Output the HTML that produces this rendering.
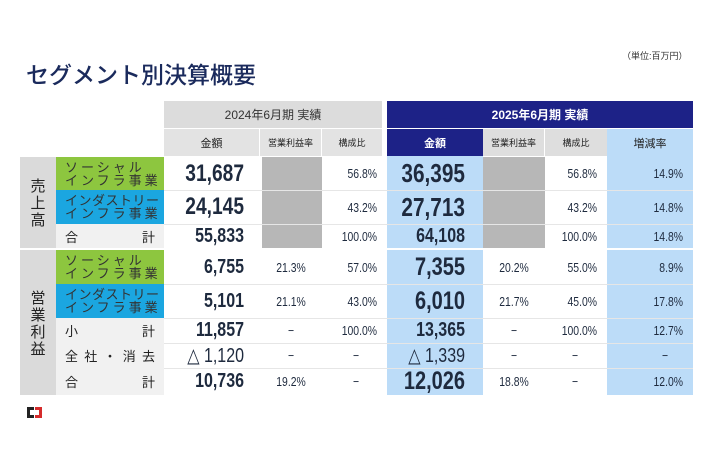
<!DOCTYPE html>
<html><head><meta charset="utf-8"><style>
*{margin:0;padding:0;box-sizing:border-box}
body{width:710px;height:474px;background:#fff;position:relative;overflow:hidden;font-family:"Liberation Sans","Noto Sans CJK JP",sans-serif;color:#222}
.a{position:absolute}
.c{position:absolute;display:flex;align-items:center;justify-content:center}
.r{justify-content:flex-end;transform-origin:right center}
.n{font-family:"Liberation Sans",sans-serif;color:#1e2a3e;transform:scaleX(.8)}
.big{font-size:24px;font-weight:bold}
.mid{font-size:20px;font-weight:bold}
.sm{font-size:13px}
.seg{font-size:13px;line-height:13px;letter-spacing:3px;color:#333;padding-left:9px;display:block;padding-top:4px;white-space:nowrap}
</style></head><body>
<div class="a" style="left:26px;top:56px;font-size:23px;font-weight:500;color:#1a2a5c;font-family:'Noto Sans CJK JP',sans-serif">セグメント別決算概要</div>
<div class="a" style="left:622px;top:49px;font-size:9px;color:#333">（単位:百万円）</div>

<div class="c" style="left:164px;top:101px;width:218px;height:27px;background:#dcdcdc;font-size:12px;color:#333">2024年6月期 実績</div>
<div class="c" style="left:164px;top:129px;width:95px;height:27px;background:#e3e3e3;font-size:11px">金額</div>
<div class="c" style="left:260px;top:129px;width:61px;height:27px;background:#e3e3e3;font-size:9px">営業利益率</div>
<div class="c" style="left:322px;top:129px;width:60px;height:27px;background:#e3e3e3;font-size:9px">構成比</div>
<div class="c" style="left:387px;top:101px;width:306px;height:27px;background:#1d2287;color:#fff;font-size:12px;font-weight:bold">2025年6月期 実績</div>
<div class="c" style="left:387px;top:129px;width:96px;height:27px;background:#1d2287;color:#fff;font-size:11px;font-weight:bold">金額</div>
<div class="c" style="left:483px;top:129px;width:61px;height:27px;background:#dedede;font-size:9px">営業利益率</div>
<div class="c" style="left:545px;top:129px;width:62px;height:27px;background:#dedede;font-size:9px">構成比</div>
<div class="c" style="left:607px;top:129px;width:86px;height:27px;background:#bcdcf8;font-size:11px">増減率</div>

<div class="a" style="left:387px;top:156px;width:96px;height:239px;background:#bcdcf8"></div>
<div class="a" style="left:607px;top:156px;width:86px;height:239px;background:#bcdcf8"></div>
<div class="a" style="left:387px;top:248px;width:96px;height:2px;background:#fff"></div>
<div class="a" style="left:607px;top:248px;width:86px;height:2px;background:#fff"></div>
<div class="a" style="left:262px;top:157px;width:60px;height:91px;background:#b7b7b7"></div>
<div class="a" style="left:483px;top:157px;width:62px;height:91px;background:#b7b7b7"></div>

<div class="a" style="left:20px;top:157px;width:36px;height:91px;background:#dadada"></div>
<div class="a" style="left:20px;top:250px;width:36px;height:145px;background:#dadada"></div>
<div class="a" style="left:28px;top:178px;font-size:15px;line-height:17px;width:20px;text-align:center">売<br>上<br>高</div>
<div class="a" style="left:28px;top:290px;font-size:15px;line-height:17px;width:20px;text-align:center">営<br>業<br>利<br>益</div>

<div class="a" style="left:56px;top:157px;width:108px;height:33px;background:#8dc63f"><span class="seg">ソーシャル<br>インフラ事業</span></div>
<div class="a" style="left:56px;top:190px;width:108px;height:34px;background:#1ba6e0"><span class="seg" style="letter-spacing:0.5px">インダストリー<br><span style="letter-spacing:3px">インフラ事業</span></span></div>
<div class="c" style="left:56px;top:224px;width:108px;height:24px;background:#f1f1f1;justify-content:space-between;padding:0 9px;font-size:13px"><span>合</span><span>計</span></div>
<div class="a" style="left:56px;top:250px;width:108px;height:34px;background:#8dc63f"><span class="seg">ソーシャル<br>インフラ事業</span></div>
<div class="a" style="left:56px;top:284px;width:108px;height:34px;background:#1ba6e0"><span class="seg" style="letter-spacing:0.5px">インダストリー<br><span style="letter-spacing:3px">インフラ事業</span></span></div>
<div class="c" style="left:56px;top:318px;width:108px;height:25px;background:#f1f1f1;justify-content:space-between;padding:0 9px;font-size:13px"><span>小</span><span>計</span></div>
<div class="c" style="left:56px;top:343px;width:108px;height:25px;background:#f1f1f1;justify-content:space-between;padding:0 9px;font-size:13px"><span>全</span><span>社</span><span>・</span><span>消</span><span>去</span></div>
<div class="c" style="left:56px;top:368px;width:108px;height:27px;background:#f1f1f1;justify-content:space-between;padding:0 9px;font-size:13px"><span>合</span><span>計</span></div>

<div class="a" style="left:164px;top:190px;width:529px;height:1px;background:#e6e6e6"></div>
<div class="a" style="left:164px;top:224px;width:529px;height:1px;background:#e6e6e6"></div>
<div class="a" style="left:164px;top:284px;width:529px;height:1px;background:#e6e6e6"></div>
<div class="a" style="left:164px;top:318px;width:529px;height:1px;background:#e6e6e6"></div>
<div class="a" style="left:164px;top:343px;width:529px;height:1px;background:#e6e6e6"></div>
<div class="a" style="left:164px;top:368px;width:529px;height:1px;background:#e6e6e6"></div>

<div class="c r n big" style="left:164px;top:157px;width:80px;height:33px">31,687</div>
<div class="c r n big" style="left:164px;top:190px;width:80px;height:34px">24,145</div>
<div class="c r n mid" style="left:164px;top:224px;width:80px;height:24px">55,833</div>
<div class="c r n mid" style="left:164px;top:250px;width:80px;height:34px">6,755</div>
<div class="c r n mid" style="left:164px;top:284px;width:80px;height:34px">5,101</div>
<div class="c r n mid" style="left:164px;top:318px;width:80px;height:25px">11,857</div>
<div class="c r n mid" style="left:164px;top:343px;width:80px;height:25px;font-weight:normal">△ 1,120</div>
<div class="c r n mid" style="left:164px;top:368px;width:80px;height:27px">10,736</div>
<div class="c n sm" style="left:260px;top:250px;width:62px;height:34px">21.3%</div>
<div class="c n sm" style="left:260px;top:284px;width:62px;height:34px">21.1%</div>
<div class="c n sm" style="left:260px;top:318px;width:62px;height:25px">−</div>
<div class="c n sm" style="left:260px;top:343px;width:62px;height:25px">−</div>
<div class="c n sm" style="left:260px;top:368px;width:62px;height:27px">19.2%</div>
<div class="c r n sm" style="left:322px;top:157px;width:55px;height:33px">56.8%</div>
<div class="c r n sm" style="left:322px;top:190px;width:55px;height:34px">43.2%</div>
<div class="c r n sm" style="left:322px;top:224px;width:55px;height:24px">100.0%</div>
<div class="c r n sm" style="left:322px;top:250px;width:55px;height:34px">57.0%</div>
<div class="c r n sm" style="left:322px;top:284px;width:55px;height:34px">43.0%</div>
<div class="c r n sm" style="left:322px;top:318px;width:55px;height:25px">100.0%</div>
<div class="c n sm" style="left:330px;top:343px;width:52px;height:25px">−</div>
<div class="c n sm" style="left:330px;top:368px;width:52px;height:27px">−</div>

<div class="c r n big" style="left:387px;top:157px;width:78px;height:33px;font-size:26px">36,395</div>
<div class="c r n big" style="left:387px;top:190px;width:78px;height:34px;font-size:26px">27,713</div>
<div class="c r n mid" style="left:387px;top:224px;width:78px;height:24px">64,108</div>
<div class="c r n big" style="left:387px;top:250px;width:78px;height:34px;font-size:25px">7,355</div>
<div class="c r n big" style="left:387px;top:284px;width:78px;height:34px;font-size:25px">6,010</div>
<div class="c r n mid" style="left:387px;top:318px;width:78px;height:25px">13,365</div>
<div class="c r n mid" style="left:387px;top:343px;width:78px;height:25px;font-weight:normal">△ 1,339</div>
<div class="c r n big" style="left:387px;top:368px;width:78px;height:27px;font-size:25px">12,026</div>
<div class="c n sm" style="left:483px;top:250px;width:62px;height:34px">20.2%</div>
<div class="c n sm" style="left:483px;top:284px;width:62px;height:34px">21.7%</div>
<div class="c n sm" style="left:483px;top:318px;width:62px;height:25px">−</div>
<div class="c n sm" style="left:483px;top:343px;width:62px;height:25px">−</div>
<div class="c n sm" style="left:483px;top:368px;width:62px;height:27px">18.8%</div>
<div class="c r n sm" style="left:545px;top:157px;width:52px;height:33px">56.8%</div>
<div class="c r n sm" style="left:545px;top:190px;width:52px;height:34px">43.2%</div>
<div class="c r n sm" style="left:545px;top:224px;width:52px;height:24px">100.0%</div>
<div class="c r n sm" style="left:545px;top:250px;width:52px;height:34px">55.0%</div>
<div class="c r n sm" style="left:545px;top:284px;width:52px;height:34px">45.0%</div>
<div class="c r n sm" style="left:545px;top:318px;width:52px;height:25px">100.0%</div>
<div class="c n sm" style="left:550px;top:343px;width:50px;height:25px">−</div>
<div class="c n sm" style="left:550px;top:368px;width:50px;height:27px">−</div>
<div class="c r n sm" style="left:607px;top:157px;width:76px;height:33px">14.9%</div>
<div class="c r n sm" style="left:607px;top:190px;width:76px;height:34px">14.8%</div>
<div class="c r n sm" style="left:607px;top:224px;width:76px;height:24px">14.8%</div>
<div class="c r n sm" style="left:607px;top:250px;width:76px;height:34px">8.9%</div>
<div class="c r n sm" style="left:607px;top:284px;width:76px;height:34px">17.8%</div>
<div class="c r n sm" style="left:607px;top:318px;width:76px;height:25px">12.7%</div>
<div class="c n sm" style="left:645px;top:343px;width:40px;height:25px">−</div>
<div class="c r n sm" style="left:607px;top:368px;width:76px;height:27px">12.0%</div>

<div class="a" style="left:27px;top:407px;width:7px;height:11px;background:#222"></div>
<div class="a" style="left:30px;top:410px;width:4px;height:5px;background:#fff"></div>
<div class="a" style="left:35px;top:407px;width:7px;height:11px;background:#d52b2b"></div>
<div class="a" style="left:35px;top:410px;width:4px;height:5px;background:#fff"></div>
</body></html>
